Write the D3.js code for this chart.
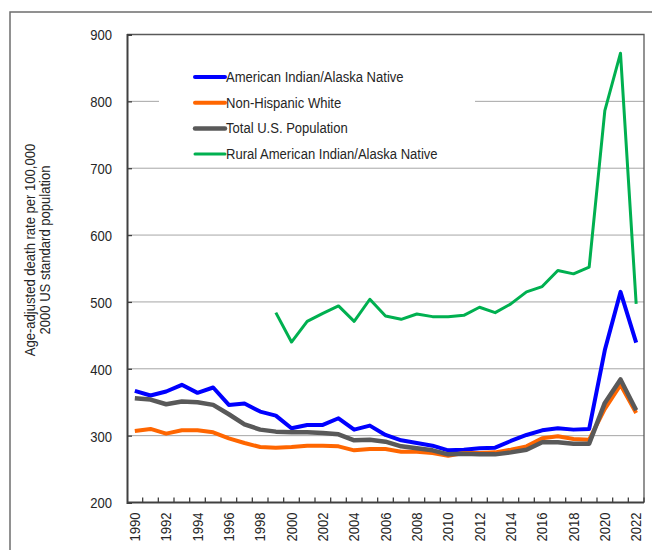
<!DOCTYPE html>
<html>
<head>
<meta charset="utf-8">
<script src="https://cdn.jsdelivr.net/npm/d3@7"></script>
<style>
  html, body { margin: 0; padding: 0; background: #fff; }
  svg text { font-family: "Liberation Sans", Arial, sans-serif; fill: #262626; }
</style>
</head>
<body>
<svg id="chart" width="652" height="550"></svg>
<script>
// Age-adjusted death rates, 1990–2022
const years = d3.range(1990, 2023);
const aian = [367, 360, 366, 376, 364, 372, 346, 348, 336, 330, 311, 316, 316, 326, 309, 315,
              301, 293, 289, 285, 278, 279, 281, 282, 292, 301, 308, 311, 309, 310, 428, 515, 439];
const nhw = [307, 310, 303, 308, 308, 305, 296, 289, 283, 282, 283, 285, 285, 284, 278, 280,
             280, 276, 276, 274, 270, 274, 274, 275, 279, 284, 296, 299, 295, 294, 340, 376, 334];
const total = [356, 354, 347, 351, 350, 346, 332, 317, 309, 306, 305, 305, 304, 302, 293, 294,
               291, 284, 281, 278, 272, 273, 272, 272, 275, 279, 290, 290, 288, 288, 349, 384, 338];
// Rural series begins in 1999
const ruralYears = d3.range(1999, 2023);
const rural = [484, 440, 471, 483, 494, 471, 504, 479, 474, 482, 478, 478, 480, 492, 484, 497,
               515, 523, 547, 542, 552, 786, 872, 497];
const yTicks = [200, 300, 400, 500, 600, 700, 800, 900];
const xLabelYears = years.filter(y => y % 2 === 0);

const seriesNames = ["American Indian/Alaska Native", "Non-Hispanic White",
                     "Total U.S. Population", "Rural American Indian/Alaska Native"];
const seriesColors = ["#0000FF", "#FF6600", "#595959", "#00B050"];
const seriesWidths = [4, 4, 4.5, 3];

// condensed lettering: regular sans squeezed horizontally
const squeeze = "scale(0.87,1)";
const fontSize = 15;

const svg = d3.select("#chart");
const plotLeft = 127, plotRight = 644, plotTop = 34.5, plotBottom = 502.5;

const x = d3.scaleBand().domain(years).range([plotLeft, plotRight]).padding(0);
const y = d3.scaleLinear().domain([200, 900]).range([plotBottom, plotTop]);
const cx = d => x(d) + x.bandwidth() / 2;

// outer frame
svg.append("rect").attr("x", 10).attr("y", 12).attr("width", 700).attr("height", 600)
  .attr("fill", "none").attr("stroke", "#6e6e6e").attr("stroke-width", 1.5);

// gridlines
svg.append("g").selectAll("line").data(yTicks.filter(t => t > 200 && t < 900)).join("line")
  .attr("x1", plotLeft).attr("x2", plotRight)
  .attr("y1", d => y(d)).attr("y2", d => y(d))
  .attr("stroke", "#a6a6a6").attr("stroke-width", 1);

// plot border (top and right)
svg.append("path")
  .attr("d", `M${plotLeft},${plotTop}H${plotRight}V${plotBottom}`)
  .attr("fill", "none").attr("stroke", "#595959").attr("stroke-width", 1.3);

// y axis
const yAxis = svg.append("g").attr("transform", `translate(${plotLeft},0)`)
  .call(d3.axisLeft(y).tickValues(yTicks).tickSize(-5).tickPadding(0));
yAxis.select(".domain").attr("stroke", "#404040").attr("stroke-width", 2);
yAxis.selectAll(".tick line").attr("stroke", "#404040").attr("stroke-width", 1.3);
yAxis.selectAll(".tick text").remove();
yAxis.selectAll(".tick").append("text")
  .attr("transform", `translate(-15,0) ${squeeze}`)
  .attr("text-anchor", "end").attr("dy", "0.36em")
  .attr("font-size", fontSize)
  .style("font-family", '"Liberation Sans", Arial, sans-serif')
  .attr("fill", "#262626")
  .text(d => d);

// x axis: tick marks at category boundaries, labels on every other year
const xAxis = svg.append("g").attr("transform", `translate(0,${plotBottom})`);
xAxis.append("line").attr("x1", plotLeft).attr("x2", plotRight)
  .attr("stroke", "#404040").attr("stroke-width", 2);
xAxis.selectAll("line.tk").data(years.slice(1).map(d => x(d)).concat([plotRight])).join("line")
  .attr("class", "tk")
  .attr("x1", d => d).attr("x2", d => d).attr("y1", 0).attr("y2", -5)
  .attr("stroke", "#404040").attr("stroke-width", 1.3);
xAxis.selectAll("text").data(xLabelYears).join("text")
  .attr("transform", d => `translate(${cx(d) + 5},${10}) rotate(-90) ${squeeze}`)
  .attr("text-anchor", "end")
  .attr("font-size", fontSize)
  .text(d => d);

// y axis title
const title = svg.append("text")
  .attr("transform", `translate(35,250) rotate(-90) ${squeeze}`)
  .attr("text-anchor", "middle").attr("font-size", fontSize);
title.append("tspan").attr("x", 0).attr("dy", 0).text("Age-adjusted death rate per 100,000");
title.append("tspan").attr("x", 0).attr("dy", 15).text("2000 US standard population");

// legend
const legend = svg.append("g");
legend.append("rect").attr("x", 159).attr("y", 62).attr("width", 316).attr("height", 104).attr("fill", "#fff");
seriesNames.forEach((name, i) => {
  const ly = 77 + i * 25.7;
  legend.append("line").attr("x1", 195).attr("x2", 225).attr("y1", ly).attr("y2", ly)
    .attr("stroke", seriesColors[i]).attr("stroke-width", seriesWidths[i]).attr("stroke-linecap", "round");
  legend.append("text").attr("transform", `translate(226,${ly + 5}) ${squeeze}`)
    .attr("font-size", fontSize).text(name);
});

// series lines
const line = d3.line().x(d => cx(d[0])).y(d => y(d[1]));
const series = [
  years.map((yr, i) => [yr, aian[i]]),
  years.map((yr, i) => [yr, nhw[i]]),
  years.map((yr, i) => [yr, total[i]]),
  ruralYears.map((yr, i) => [yr, rural[i]])
];
series.forEach((s, i) => {
  svg.append("path").datum(s).attr("d", line)
    .attr("fill", "none").attr("stroke", seriesColors[i])
    .attr("stroke-width", seriesWidths[i]).attr("stroke-linejoin", "round");
});
</script>
</body>
</html>
